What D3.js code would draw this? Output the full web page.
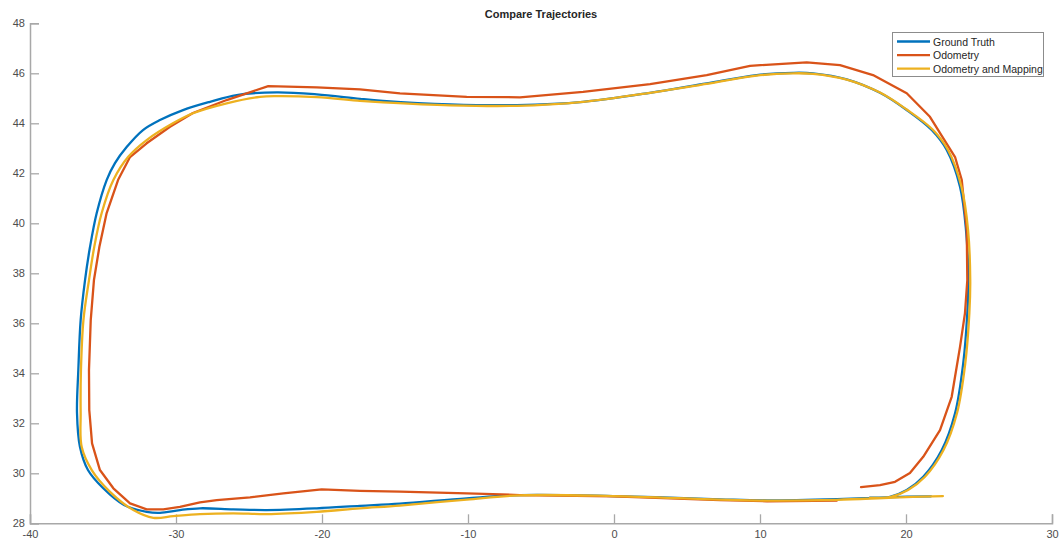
<!DOCTYPE html>
<html>
<head>
<meta charset="utf-8">
<script src="https://cdn.jsdelivr.net/npm/d3@7"></script>
<style>
  html, body { margin: 0; padding: 0; background: #fff; }
  svg { display: block; font-family: "Liberation Sans", Arial, sans-serif; }
</style>
</head>
<body>
<svg id="chart" width="1061" height="539"></svg>
<script>
// Trajectory samples as [x, y] pairs
const groundTruth = [
  [21.71,29.08],[19.11,29.05],[15.27,28.97],[10.48,28.92],[7.26,28.96],[-0.07,29.09],[-6.44,29.13],
  [-10.09,29.00],[-14.66,28.79],[-17.40,28.70],[-20.36,28.60],[-23.79,28.53],[-26.08,28.56],
  [-28.36,28.60],[-29.73,28.53],[-31.10,28.42],[-32.01,28.46],[-33.56,28.73],[-35.00,29.41],
  [-36.03,30.13],[-36.58,31.06],[-36.78,32.41],[-36.69,34.13],[-36.53,36.13],[-36.23,37.73],
  [-35.89,39.05],[-35.43,40.41],[-34.75,41.73],[-34.18,42.41],[-33.38,43.05],[-32.26,43.73],
  [-31.10,44.13],[-29.52,44.53],[-27.67,44.86],[-25.84,45.13],[-23.10,45.24],[-20.36,45.16],
  [-17.40,44.98],[-15.82,44.90],[-11.23,44.76],[-6.66,44.73],[-2.12,44.86],[2.47,45.22],
  [6.35,45.60],[9.77,45.93],[12.26,46.02],[13.63,46.00],[15.94,45.76],[18.22,45.22],
  [20.05,44.53],[21.76,43.73],[22.79,42.93],[23.70,41.46],[24.11,39.73],[24.27,37.73],
  [24.20,36.41],[23.92,34.40],[23.36,32.40],[22.45,30.93],[21.18,29.86],[20.05,29.33],
  [18.90,29.06],[17.53,29.03]
];

const odometry = [
  [15.27,28.91],[10.48,28.88],[7.26,28.93],[-0.07,29.08],[-6.44,29.13],[-10.09,29.20],
  [-14.66,29.27],[-17.40,29.30],[-20.02,29.36],[-22.65,29.20],[-24.93,29.04],[-27.21,28.93],
  [-28.36,28.84],[-29.73,28.66],[-30.87,28.56],[-32.01,28.56],[-33.15,28.80],[-34.29,29.40],
  [-35.21,30.13],[-35.75,31.20],[-35.94,32.53],[-35.96,34.13],[-35.84,36.13],[-35.62,37.73],
  [-35.25,39.05],[-34.75,40.41],[-33.97,41.73],[-33.15,42.65],[-32.01,43.20],[-30.41,43.86],
  [-28.84,44.41],[-26.53,44.93],[-23.68,45.49],[-20.36,45.44],[-17.40,45.36],[-14.66,45.20],
  [-10.09,45.06],[-6.44,45.04],[-2.12,45.26],[2.47,45.57],[6.35,45.93],[9.32,46.30],
  [13.20,46.44],[15.48,46.33],[17.74,45.93],[20.05,45.20],[21.64,44.26],[23.36,42.65],
  [23.82,41.73],[24.16,39.73],[24.20,37.73],[24.04,36.41],[23.70,35.06],[23.13,33.06],
  [22.33,31.73],[21.18,30.66],[20.27,30.01],[19.25,29.66],[18.22,29.53],[16.92,29.45]
];

const odomMapping = [
  [22.53,29.09],[19.11,29.03],[15.27,28.94],[10.48,28.91],[7.26,28.95],[-0.07,29.09],[-6.44,29.12],
  [-10.09,28.95],[-14.66,28.71],[-17.40,28.60],[-20.36,28.46],[-23.79,28.37],[-26.08,28.40],
  [-28.36,28.37],[-30.18,28.29],[-31.55,28.22],[-32.92,28.53],[-34.52,29.26],[-35.77,30.13],
  [-36.46,31.06],[-36.53,32.41],[-36.51,34.13],[-36.34,36.13],[-35.96,37.73],[-35.60,39.05],
  [-35.09,40.41],[-34.29,41.73],[-33.27,42.66],[-32.01,43.33],[-30.21,44.00],[-28.84,44.40],
  [-26.53,44.80],[-24.25,45.06],[-23.10,45.09],[-20.36,45.05],[-17.40,44.90],[-15.82,44.84],
  [-11.23,44.72],[-6.66,44.70],[-2.12,44.86],[2.47,45.22],[6.35,45.58],[9.77,45.91],
  [12.26,46.00],[13.63,45.98],[15.94,45.75],[18.22,45.23],[20.05,44.55],[21.82,43.75],
  [22.88,42.93],[23.80,41.46],[24.25,39.73],[24.40,37.73],[24.34,36.41],[24.06,34.40],
  [23.49,32.40],[22.57,30.93],[21.30,29.86],[20.14,29.33],[18.97,29.06],[17.53,29.02]
];

const seriesNames = ["Ground Truth", "Odometry", "Odometry and Mapping"];
const seriesColors = ["#0072BD", "#D95319", "#EDB120"];
const xTicks = [-40, -30, -20, -10, 0, 10, 20, 30];
const yTicks = [28, 30, 32, 34, 36, 38, 40, 42, 44, 46, 48];
const chartTitle = "Compare Trajectories";

const svg = d3.select("#chart");
const x = d3.scaleLinear().domain([-40, 30]).range([30, 1052]);
const y = d3.scaleLinear().domain([28, 48]).range([523.3, 23.3]);

const axisColor = "#a8a8a8";
const labelColor = "#4d4d4d";
const plainNumber = d => String(d);

// Axes with inward ticks
const gx = svg.append("g")
  .attr("transform", `translate(0,${y(28)})`)
  .call(d3.axisBottom(x).tickValues(xTicks).tickSize(-9).tickPadding(7).tickFormat(plainNumber));
const gy = svg.append("g")
  .attr("transform", `translate(${x(-40)},0)`)
  .call(d3.axisLeft(y).tickValues(yTicks).tickSize(-9).tickPadding(5).tickFormat(plainNumber));

[gx, gy].forEach(g => {
  g.select(".domain").attr("stroke", axisColor).attr("stroke-width", 1.5);
  g.selectAll(".tick line").attr("stroke", axisColor).attr("stroke-width", 1.3);
  g.selectAll(".tick text").attr("fill", labelColor).style("font-size", "11px")
    .style("font-family", "'Liberation Sans', Arial, sans-serif");
});

// Trajectories
const line = d3.line()
  .x(d => x(d[0]))
  .y(d => y(d[1]))
  .curve(d3.curveCatmullRom.alpha(0.5));

const odoLine = d3.line()
  .x(d => x(d[0]))
  .y(d => y(d[1]))
  .curve(d3.curveLinear);

const series = [groundTruth, odometry, odomMapping];
series.forEach((data, i) => {
  svg.append("path")
    .datum(data)
    .attr("fill", "none")
    .attr("stroke", seriesColors[i])
    .attr("stroke-width", 2.3)
    .attr("stroke-linejoin", "round")
    .attr("stroke-linecap", "round")
    .attr("d", i === 1 ? odoLine : line);
});

// Title
svg.append("text")
  .attr("x", 541)
  .attr("y", 18)
  .attr("text-anchor", "middle")
  .attr("fill", "#262626")
  .style("font-size", "11px")
  .style("font-weight", "bold")
  .text(chartTitle);

// Legend
const legend = svg.append("g");
legend.append("rect")
  .attr("x", 892.5).attr("y", 32.5)
  .attr("width", 151).attr("height", 44)
  .attr("fill", "#fff")
  .attr("stroke", "#8c8c8c")
  .attr("stroke-width", 1);

seriesNames.forEach((name, i) => {
  const ly = 41.5 + i * 13.6;
  legend.append("line")
    .attr("x1", 897).attr("x2", 930)
    .attr("y1", ly).attr("y2", ly)
    .attr("stroke", seriesColors[i])
    .attr("stroke-width", 2.3);
  legend.append("text")
    .attr("x", 933)
    .attr("y", ly + 4)
    .attr("fill", "#262626")
    .style("font-size", "10.5px")
    .text(name);
});
</script>
</body>
</html>
